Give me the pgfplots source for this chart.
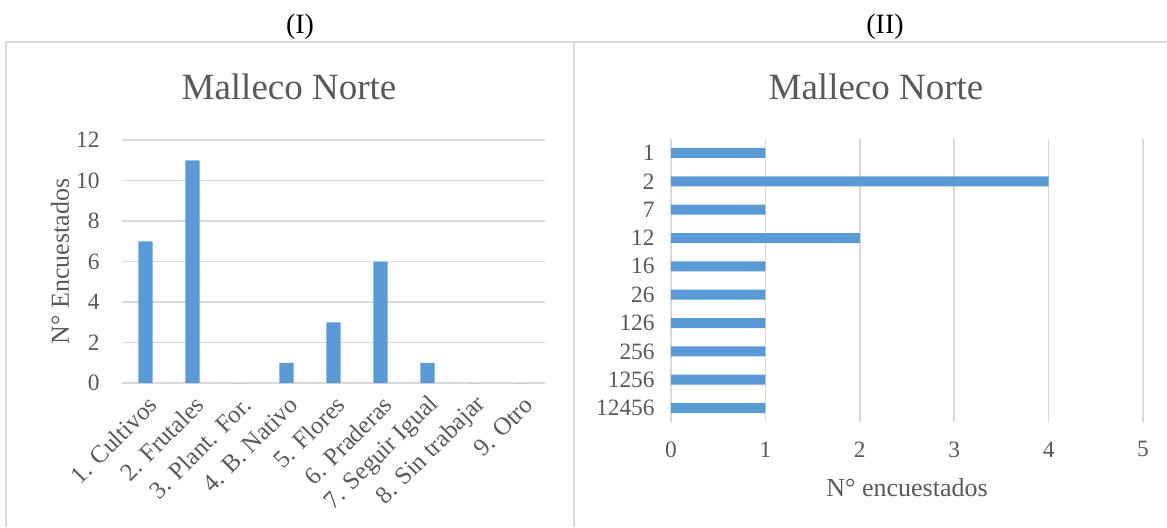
\documentclass[border=0pt]{standalone}
\usepackage{fontspec}
\setmainfont{Liberation Serif}
\usepackage{pgfplots}
\pgfplotsset{compat=1.18}
\definecolor{barblue}{HTML}{5B9BD5}
\definecolor{txtgray}{HTML}{595959}
\definecolor{gridgray}{HTML}{D9D9D9}
\pgfplotsset{
  excelchart/.style={
    scale only axis, enlargelimits=false,
    axis line style={draw=none},
    major tick length=0pt,
    grid style={draw=gridgray, line width=0.8pt},
    tick label style={font=\fontsize{11.7}{13}\selectfont, text=txtgray},
    /pgf/number format/assume math mode=true,
  }
}
\begin{document}
\begin{tikzpicture}
\useasboundingbox (0pt,0pt) rectangle (583.5pt,-263.5pt);
% frame of the two panels
\draw[gridgray, line width=1pt] (3pt,-263.5pt) -- (3pt,-21pt) -- (583.5pt,-21pt);
\draw[gridgray, line width=1pt] (286.75pt,-21pt) -- (286.75pt,-263.5pt);
\node[font=\fontsize{14}{16}\selectfont] at (150pt,-13.5pt) {(I)};
\node[font=\fontsize{14}{16}\selectfont] at (442.5pt,-13.5pt) {(II)};
\node[font=\fontsize{18.5}{20}\selectfont, text=txtgray] at (144.5pt,-43.5pt) {Malleco Norte};
\node[font=\fontsize{18.5}{20}\selectfont, text=txtgray] at (438pt,-43.5pt) {Malleco Norte};

% (I) vertical bars
\begin{axis}[excelchart,
  at={(61pt,-191.5pt)}, anchor=south west,
  width=211.5pt, height=121.5pt,
  ybar, bar width=7.2pt,
  xmin=0.5, xmax=9.5, ymin=0, ymax=12,
  xtick={1,...,9}, ytick={0,2,...,12},
  xticklabels={1. Cultivos,2. Frutales,3. Plant. For.,4. B. Nativo,5. Flores,6. Praderas,7. Seguir Igual,8. Sin trabajar,9. Otro},
  xticklabel style={rotate=45, anchor=east, inner sep=1pt, xshift=-2.6pt, yshift=-9pt,
    font=\fontsize{12.4}{14}\selectfont},
  yticklabel style={inner sep=0pt, xshift=-11pt},
  ymajorgrids,
  ylabel={N° Encuestados},
  every axis y label/.style={at={(axis description cs:0,0.5)}, xshift=-31pt, rotate=90, anchor=center,
    font=\fontsize{13}{15}\selectfont, text=txtgray},
]
\addplot[fill=barblue, draw=none] coordinates {
(1,7) (2,11) (3,0) (4,1) (5,3) (6,6) (7,1) (8,0) (9,0)
};
\end{axis}

% (II) horizontal bars
\begin{axis}[excelchart,
  at={(335.5pt,-211.1pt)}, anchor=south west,
  width=236pt, height=141.7pt,
  xbar, bar width=5pt, y dir=reverse,
  xmin=0, xmax=5, ymin=-0.5, ymax=9.5,
  xtick={0,...,5}, ytick={0,...,9},
  yticklabels={1,2,7,12,16,26,126,256,1256,12456},
  yticklabel style={inner sep=0pt, xshift=-8pt},
  xticklabel style={inner sep=0pt, yshift=-9.5pt},
  xmajorgrids,
  xlabel={N° encuestados},
  every axis x label/.style={at={(axis description cs:0.5,0)}, yshift=-32.5pt, anchor=center,
    font=\fontsize{13}{15}\selectfont, text=txtgray},
]
\addplot[fill=barblue, draw=none] coordinates {
(1,0) (4,1) (1,2) (2,3) (1,4) (1,5) (1,6) (1,7) (1,8) (1,9)
};
\end{axis}
\end{tikzpicture}
\end{document}
